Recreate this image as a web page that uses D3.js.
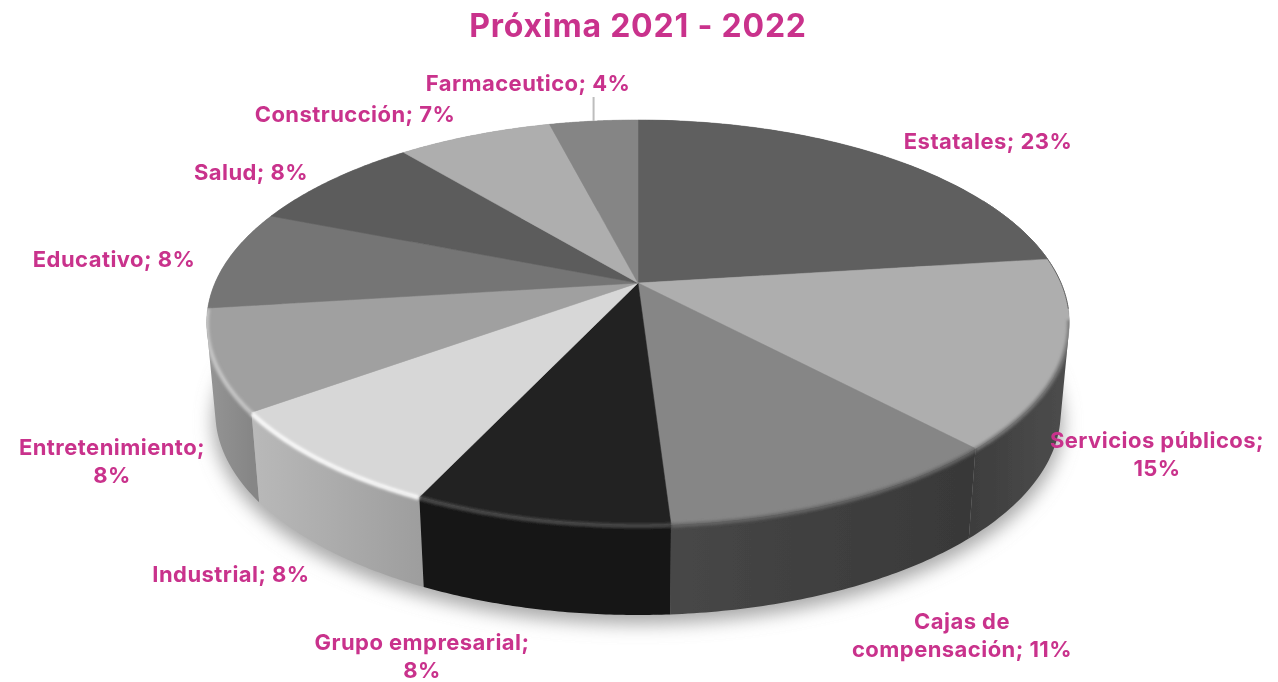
<!DOCTYPE html>
<html><head><meta charset="utf-8">
<script src="https://cdn.jsdelivr.net/npm/d3@7"></script>
<style>html,body{margin:0;padding:0;background:#fff}svg{display:block}text{font-family:Inter,"Open Sans",sans-serif;font-weight:700}</style>
</head><body><svg id="c" width="1278" height="682"></svg>
<script>
const titleText = "Próxima 2021 - 2022";
const categories = ["Estatales","Servicios públicos","Cajas de compensación","Grupo empresarial","Industrial","Entretenimiento","Educativo","Salud","Construcción","Farmaceutico"];
const values = [23,15,11,8,8,8,8,8,7,4];
const topColors = ["#5f5f5f","#aeaeae","#868686","#222222","#d7d7d7","#a0a0a0","#757575","#5c5c5c","#aeaeae","#858585"];
const sideLeft  = ["#444444","#3e3e3e","#474747","#151515","#b9b9b9","#959595","#8a8a8a","#888888","#888888","#888888"];
const sideRight = ["#4a4a4a","#4d4d4d","#383838","#121212","#9e9e9e","#868686","#8a8a8a","#888888","#888888","#888888"];
const rimColors = ["#555555","#7a7a7a","#666666","#4c4c4c","#ffffff","#c8c8c8","#8a8a8a","#777777","#bbbbbb","#999999"];
const labelLines = [["Estatales; 23%"],["Servicios públicos;","15%"],["Cajas de","compensación; 11%"],["Grupo empresarial;","8%"],["Industrial; 8%"],["Entretenimiento;","8%"],["Educativo; 8%"],["Salud; 8%"],["Construcción; 7%"],["Farmaceutico; 4%"]];
const labelAnchors = [[988,149],[1157,448],[962,629],[422,650],[231,582],[112,455],[114,267],[251,180],[355,122],[528,91]];

const svg = d3.select("#c");
const defs = svg.append("defs");
const blur = (id,s)=>defs.append("filter").attr("id",id).attr("x","-20%").attr("y","-20%").attr("width","140%").attr("height","140%")
  .append("feGaussianBlur").attr("stdDeviation",s);
blur("shadow",9); blur("rim",1.7); blur("soft",0.45);

// perspective disc: pie angle -> picture position
const cx=638, cy=283, kx=423, ky=194.8, persp=-0.195, depth=90, shrink=0.98;
const topPt = a => { const s=Math.sin(a), c=-Math.cos(a), d=1+persp*c; return [cx+kx*s/d, cy+ky*c/d]; };
const botPt = a => { const p=topPt(a); return [cx+(p[0]-cx)*shrink, p[1]+depth]; };
const line = d3.line();
const samples = (a0,a1)=>d3.range(0,61).map(i=>a0+(a1-a0)*i/60);

const arcs = d3.pie().sort(null).value(d=>d)(values);
const root = svg.append("g").attr("filter","url(#soft)");

// soft shadow under the disc
root.append("path")
  .attr("d", line(d3.range(0,121).map(i=>i/120*2*Math.PI).map(a=>{const p=botPt(a);return [cx+(p[0]-cx)*1.005,p[1]+9];}))+"Z")
  .attr("fill","#a8a8a8").attr("filter","url(#shadow)");

const clip = defs.append("clipPath").attr("id","disc");
const wedgePath = d => line([[cx,cy]].concat(samples(d.startAngle,d.endAngle).map(topPt)))+"Z";
// the wall of a slice is swept as narrow strips, all wound alike, and merged into one path
const sidePath = d => { const t=samples(d.startAngle,d.endAngle);
  return d3.pairs(t).map(([a,b])=>{
    const q=[topPt(a),topPt(b),botPt(b),botPt(a)];
    if(d3.polygonArea(q)<0) q.reverse();
    return line(q)+"Z";
  }).join(""); };
arcs.forEach(d=>{ clip.append("path").attr("d",wedgePath(d)); clip.append("path").attr("d",sidePath(d)); });

// side wall, back to front
const sideOrder = arcs.map((d,i)=>i).sort((a,b)=>{
  const m=d=>-Math.cos((arcs[d].startAngle+arcs[d].endAngle)/2); return m(a)-m(b);});
sideOrder.forEach(i=>{
  const d=arcs[i], t=samples(d.startAngle,d.endAngle);
  const xs=t.map(a=>topPt(a)[0]);
  const grad=defs.append("linearGradient").attr("id","side"+i).attr("gradientUnits","userSpaceOnUse")
    .attr("x1",d3.min(xs)).attr("x2",d3.max(xs)).attr("y1",0).attr("y2",0);
  grad.append("stop").attr("offset",0).attr("stop-color",sideLeft[i]);
  grad.append("stop").attr("offset",1).attr("stop-color",sideRight[i]);
  root.append("path").attr("d",sidePath(d)).attr("fill",`url(#side${i})`);
});

// top face
arcs.forEach((d,i)=>{
  root.append("path").attr("d",wedgePath(d)).attr("fill",topColors[i]).attr("stroke",topColors[i]).attr("stroke-width",0.5);
});

// bevel along the front rim, kept inside the disc outline
const rimLayer = root.append("g").attr("clip-path","url(#disc)");
arcs.forEach((d,i)=>{
  if(i===0||i>=6) return;
  const a0=Math.max(d.startAngle,1.75), a1=d.endAngle;
  const rimPts=samples(a0,a1).map(a=>{const p=topPt(a);return [p[0],p[1]+1];});
  rimLayer.append("path").attr("d",line(rimPts)).attr("fill","none").attr("stroke",rimColors[i])
    .attr("stroke-width",4).attr("stroke-linecap","butt").attr("filter","url(#rim)");
});
// thin dark edge at the far right
root.append("path").attr("d",line(samples(arcs[0].endAngle-0.35,1.7).map(topPt))).attr("fill","none")
  .attr("stroke","#666").attr("stroke-width",1);

// leader line
const lead=topPt((arcs[9].startAngle+arcs[9].endAngle)/2);
root.append("line").attr("x1",lead[0]).attr("x2",lead[0]).attr("y1",97).attr("y2",lead[1]).attr("stroke","#bdbdbd").attr("stroke-width",2);

// text
const ink="#c9338c";
root.append("text").attr("x",638).attr("y",37).attr("text-anchor","middle").attr("font-size",32).attr("letter-spacing",0.8).attr("fill",ink).text(titleText);
labelLines.forEach((ls,i)=>{
  ls.forEach((s,j)=>{
    root.append("text").attr("x",labelAnchors[i][0]).attr("y",labelAnchors[i][1]+j*27.5)
      .attr("text-anchor","middle").attr("font-size",22).attr("letter-spacing",0.45).attr("fill",ink).text(s);
  });
});
</script></body></html>
